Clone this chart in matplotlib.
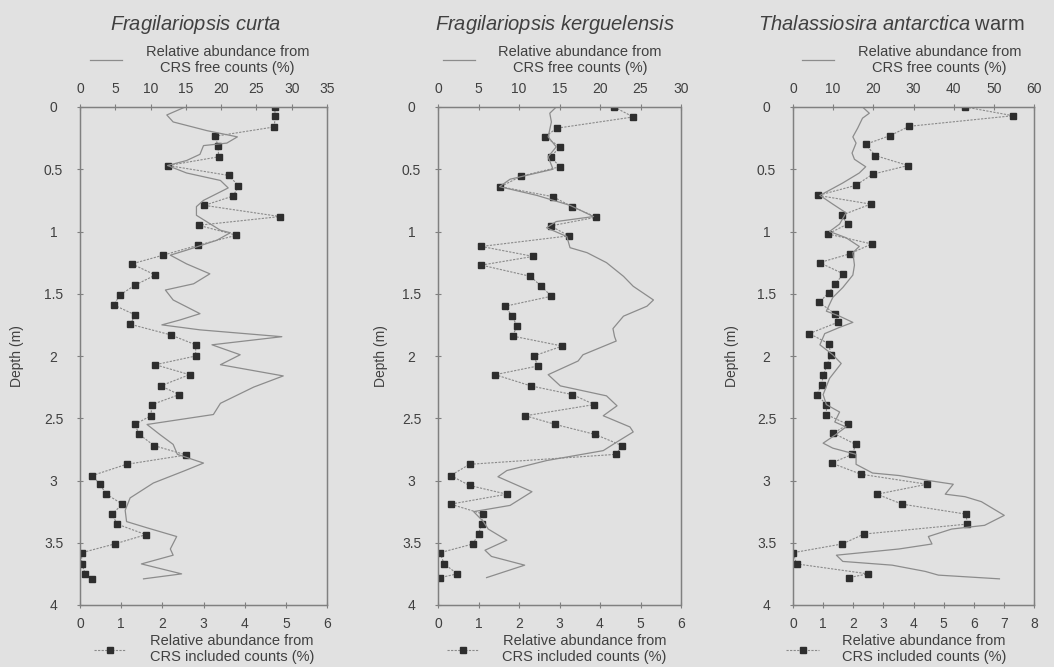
import matplotlib
matplotlib.use("Agg")
import matplotlib.pyplot as plt
from matplotlib.ticker import MultipleLocator

plt.rcParams['font.family'] = ['Liberation Sans', 'DejaVu Sans']
plt.rcParams['mathtext.fontset'] = 'custom'
plt.rcParams['mathtext.rm'] = 'Liberation Sans'
plt.rcParams['mathtext.it'] = 'Liberation Sans:italic'

# ---------------- data ----------------
titles = [r'$\it{Fragilariopsis\ curta}$',
          r'$\it{Fragilariopsis\ kerguelensis}$',
          r'$\it{Thalassiosira\ antarctica}$ warm']
free_label = 'Relative abundance from\nCRS free counts (%)'
incl_label = 'Relative abundance from\nCRS included counts (%)'
ylabel = 'Depth (m)'

# Panel 1 - Fragilariopsis curta
p1_inc_depth = [0.00, 0.07, 0.16, 0.235, 0.31, 0.40, 0.47, 0.55, 0.635, 0.715,
                0.79, 0.88, 0.95, 1.03, 1.11, 1.19, 1.26, 1.35, 1.43, 1.51,
                1.59, 1.67, 1.745, 1.83, 1.91, 2.00, 2.07, 2.15, 2.24, 2.31,
                2.39, 2.48, 2.55, 2.63, 2.72, 2.795, 2.87, 2.96, 3.03, 3.11,
                3.19, 3.27, 3.35, 3.435, 3.51, 3.58, 3.67, 3.75, 3.79]
p1_inc = [4.73, 4.74, 4.72, 3.28, 3.35, 3.37, 2.14, 3.62, 3.85, 3.72,
          3.02, 4.86, 2.88, 3.80, 2.87, 2.02, 1.26, 1.83, 1.34, 0.97,
          0.82, 1.34, 1.22, 2.20, 2.81, 2.81, 1.83, 2.66, 1.96, 2.41,
          1.75, 1.72, 1.33, 1.44, 1.80, 2.58, 1.13, 0.30, 0.48, 0.64,
          1.03, 0.78, 0.90, 1.60, 0.84, 0.04, 0.04, 0.13, 0.30]
p1_free_depth = [0.00, 0.064, 0.12, 0.19, 0.24, 0.29, 0.31, 0.38, 0.43, 0.47,
                 0.53, 0.59, 0.65, 0.75, 0.80, 0.87, 0.99, 1.01, 1.07, 1.15,
                 1.19, 1.26, 1.34, 1.42, 1.47, 1.55, 1.66, 1.71, 1.75, 1.79,
                 1.845, 1.91, 1.99, 2.07, 2.16, 2.25, 2.38, 2.47, 2.55, 2.63,
                 2.71, 2.79, 2.86, 2.92, 3.02, 3.14, 3.24, 3.33, 3.38, 3.45,
                 3.55, 3.60, 3.67, 3.75, 3.79]
p1_free = [14.9, 12.3, 13.2, 18.0, 22.3, 20.8, 17.5, 17.0, 15.1, 12.4,
           15.1, 19.9, 21.0, 17.5, 16.5, 16.5, 19.9, 21.3, 19.4, 15.1,
           12.8, 15.1, 18.4, 16.1, 12.1, 13.2, 17.0, 14.2, 11.6, 17.0,
           28.6, 18.7, 22.7, 19.9, 28.8, 24.6, 19.9, 18.9, 9.5, 11.3,
           13.2, 13.8, 17.5, 14.9, 10.4, 7.1, 6.4, 6.6, 9.5, 13.7,
           12.8, 13.2, 8.7, 14.4, 9.0]

# Panel 2 - Fragilariopsis kerguelensis
p2_inc_depth = [0.00, 0.08, 0.17, 0.24, 0.32, 0.40, 0.48, 0.555, 0.64, 0.72,
                0.80, 0.885, 0.955, 1.035, 1.12, 1.20, 1.27, 1.36, 1.44, 1.52,
                1.60, 1.68, 1.76, 1.84, 1.92, 2.00, 2.08, 2.15, 2.24, 2.31,
                2.39, 2.48, 2.55, 2.63, 2.72, 2.79, 2.87, 2.96, 3.04, 3.11,
                3.19, 3.27, 3.35, 3.43, 3.51, 3.58, 3.67, 3.75, 3.78]
p2_inc = [4.35, 4.82, 2.94, 2.63, 3.02, 2.78, 3.01, 2.06, 1.54, 2.83,
          3.31, 3.91, 2.78, 3.23, 1.07, 2.35, 1.07, 2.28, 2.55, 2.80,
          1.66, 1.83, 1.95, 1.84, 3.07, 2.36, 2.47, 1.41, 2.29, 3.32,
          3.86, 2.16, 2.90, 3.88, 4.55, 4.39, 0.78, 0.31, 0.78, 1.70,
          0.31, 1.12, 1.08, 1.00, 0.86, 0.05, 0.15, 0.48, 0.05]
p2_free_depth = [0.00, 0.05, 0.12, 0.24, 0.32, 0.40, 0.50, 0.58, 0.64, 0.71,
                 0.79, 0.88, 0.92, 0.97, 1.04, 1.13, 1.17, 1.25, 1.36, 1.44,
                 1.55, 1.60, 1.68, 1.78, 1.845, 1.88, 1.99, 2.04, 2.15, 2.24,
                 2.32, 2.40, 2.48, 2.57, 2.61, 2.69, 2.76, 2.84, 2.92, 2.97,
                 3.09, 3.20, 3.25, 3.33, 3.39, 3.48, 3.56, 3.61, 3.68, 3.78]
p2_free = [14.6, 13.8, 14.0, 13.6, 14.6, 13.6, 14.2, 8.9, 7.6, 12.2,
           16.3, 19.2, 14.6, 13.4, 15.9, 16.3, 18.4, 20.8, 22.9, 24.1,
           26.6, 25.8, 22.9, 21.6, 21.8, 22.0, 17.9, 17.3, 13.6, 15.1,
           20.8, 22.1, 20.4, 23.7, 24.1, 22.1, 20.4, 13.4, 8.5, 7.4,
           11.6, 8.9, 4.4, 5.6, 6.2, 8.5, 5.8, 6.6, 10.7, 6.0]

# Panel 3 - Thalassiosira antarctica warm
p3_inc_depth = [0.00, 0.07, 0.155, 0.23, 0.30, 0.39, 0.47, 0.54, 0.63, 0.71,
                0.78, 0.87, 0.94, 1.02, 1.10, 1.18, 1.25, 1.34, 1.42, 1.49,
                1.57, 1.66, 1.73, 1.82, 1.90, 1.99, 2.07, 2.15, 2.23, 2.31,
                2.39, 2.47, 2.55, 2.62, 2.71, 2.79, 2.86, 2.95, 3.03, 3.11,
                3.19, 3.27, 3.35, 3.43, 3.51, 3.58, 3.67, 3.75, 3.78]
p3_inc = [5.72, 7.30, 3.86, 3.22, 2.41, 2.73, 3.82, 2.64, 2.08, 0.83,
          2.58, 1.61, 1.81, 1.16, 2.61, 1.88, 0.88, 1.67, 1.41, 1.19,
          0.87, 1.39, 1.48, 0.54, 1.18, 1.26, 1.13, 1.01, 0.95, 0.79,
          1.11, 1.11, 1.82, 1.34, 2.08, 1.97, 1.28, 2.26, 4.45, 2.79,
          3.62, 5.74, 5.79, 2.36, 1.63, 0.00, 0.12, 2.49, 1.85]
p3_free_depth = [0.00, 0.05, 0.09, 0.17, 0.24, 0.29, 0.37, 0.42, 0.48, 0.53,
                 0.61, 0.71, 0.78, 0.85, 0.94, 1.00, 1.05, 1.12, 1.17, 1.27,
                 1.35, 1.45, 1.53, 1.64, 1.68, 1.73, 1.77, 1.82, 1.91, 1.99,
                 2.06, 2.18, 2.31, 2.39, 2.45, 2.53, 2.57, 2.63, 2.70, 2.74,
                 2.79, 2.87, 2.94, 2.96, 3.00, 3.03, 3.11, 3.13, 3.17, 3.28,
                 3.36, 3.39, 3.45, 3.51, 3.55, 3.60, 3.65, 3.68, 3.73, 3.76,
                 3.79]
p3_free = [17.3, 19.0, 17.3, 16.1, 14.9, 15.7, 14.7, 15.3, 18.1, 16.5,
           12.4, 6.7, 9.9, 13.2, 11.6, 9.1, 13.2, 16.5, 14.9, 15.3,
           14.9, 12.4, 9.9, 8.3, 11.6, 14.9, 11.6, 7.9, 6.7, 9.9,
           12.0, 9.1, 7.5, 8.3, 11.6, 10.4, 13.2, 10.7, 7.5, 9.9,
           15.7, 15.7, 19.8, 26.4, 33.7, 39.9, 37.9, 42.8, 46.9, 52.6,
           47.7, 39.5, 33.7, 34.6, 26.4, 10.8, 12.4, 24.7, 32.9, 36.2,
           51.4]

top_max = [35, 30, 60]
top_step = [5, 5, 10]
bot_max = [6, 6, 8]

panels = [
    (p1_inc_depth, p1_inc, p1_free_depth, p1_free),
    (p2_inc_depth, p2_inc, p2_free_depth, p2_free),
    (p3_inc_depth, p3_inc, p3_free_depth, p3_free),
]

# ---------------- layout / style ----------------
W, H = 1054, 667
bg = '#e1e1e1'
txt = '#404040'
spine_c = '#808080'
free_c = '#8c8c8c'
mark_c = '#2e2e2e'

ax_px = [(80, 327), (438, 681), (793, 1034)]
ax_top, ax_bot = 107, 605
title_x = [0.468, 0.481, 0.41]
ylab_x = [-0.227, -0.206, -0.224]
top_leg_x = [0.484, 0.471, 0.492]
bot_leg_x = [0.502, 0.488, 0.429]

fig = plt.figure(figsize=(W / 100, H / 100), dpi=100, facecolor=bg)

for i, (idep, ival, fdep, fval) in enumerate(panels):
    x0, x1 = ax_px[i]
    ax = fig.add_axes([x0 / W, 1 - ax_bot / H, (x1 - x0) / W, (ax_bot - ax_top) / H])
    ax.set_facecolor(bg)
    ax2 = ax.twiny()

    l_inc, = ax.plot(ival, idep, color='#8a8a8a', lw=0.8, ls=(0, (2, 1.2)),
                     marker='s', ms=4.6, mfc=mark_c, mec=mark_c, zorder=3)
    l_free, = ax2.plot(fval, fdep, color=free_c, lw=0.9, zorder=2)

    ax.set_ylim(4, 0)
    ax.set_xlim(0, bot_max[i])
    ax2.set_xlim(0, top_max[i])
    ax.yaxis.set_major_locator(MultipleLocator(0.5))
    ax.xaxis.set_major_locator(MultipleLocator(1))
    ax2.xaxis.set_major_locator(MultipleLocator(top_step[i]))
    ax.yaxis.set_major_formatter(plt.FuncFormatter(lambda v, p: f'{v:g}'))

    for a in (ax, ax2):
        for s in a.spines.values():
            s.set_color(spine_c)
            s.set_linewidth(0.9)
        a.spines['top'].set_linestyle((0, (1.5, 1)))
        a.spines['bottom'].set_linestyle((0, (1.5, 1)))

    ax.tick_params(axis='x', direction='inout', length=5, width=0.8, color=spine_c,
                   labelsize=10, labelcolor=txt, pad=6)
    ax.tick_params(axis='y', direction='inout', length=5, width=0.8, color=spine_c,
                   labelsize=10, labelcolor=txt, pad=16.5)
    for lab in ax.get_yticklabels():
        lab.set_ha('center')
    ax2.tick_params(axis='x', direction='inout', length=5, width=0.8, color=spine_c,
                    labelsize=10, labelcolor=txt, pad=5.5)

    ax.set_ylabel(ylabel, fontsize=10, color=txt)
    ax.yaxis.set_label_coords(ylab_x[i], 0.5)

    ax.text(title_x[i], 1.165, titles[i], transform=ax.transAxes, ha='center',
            va='center', fontsize=14.5, color=txt)

    leg_t = ax2.legend([l_free], [free_label], loc='center',
                       bbox_to_anchor=(top_leg_x[i], 1.095), frameon=False,
                       fontsize=10.5, handlelength=2.2, handletextpad=1.6,
                       borderpad=0, borderaxespad=0, labelcolor=txt)
    for t in leg_t.get_texts():
        t.set_multialignment('center')
    leg_b = ax.legend([l_inc], [incl_label], loc='center',
                      bbox_to_anchor=(bot_leg_x[i], -0.089), frameon=False,
                      fontsize=10.5, handlelength=2.2, handletextpad=1.6,
                      borderpad=0, borderaxespad=0, labelcolor=txt)
    for t in leg_b.get_texts():
        t.set_multialignment('center')

fig.savefig('out.png', dpi=100, facecolor=bg)
